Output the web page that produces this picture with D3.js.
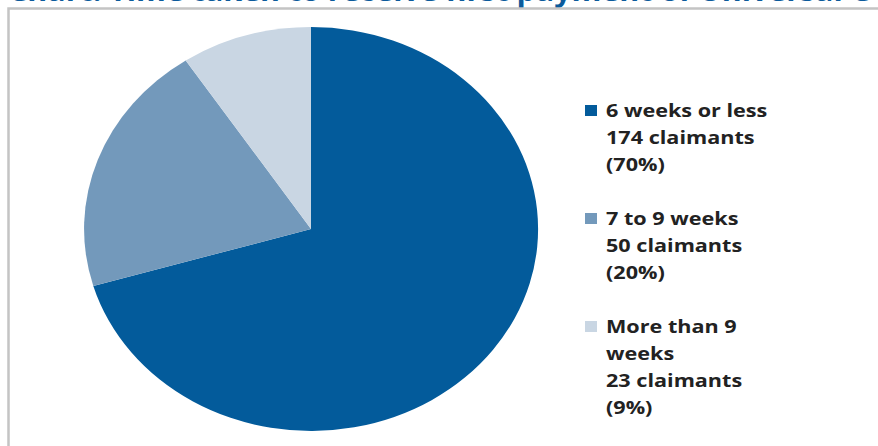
<!DOCTYPE html>
<html>
<head>
<meta charset="utf-8">
<script src="https://cdn.jsdelivr.net/npm/d3@7"></script>
<style>
  body { margin: 0; background: #fff; }
  svg { display: block; }
</style>
</head>
<body>
<script>
// values
var categories = ["6 weeks or less", "7 to 9 weeks", "More than 9 weeks"];
var claimants = [174, 50, 23];
var percents = ["70%", "20%", "9%"];
var legendLines = [
  ["6 weeks or less", "174 claimants", "(70%)"],
  ["7 to 9 weeks", "50 claimants", "(20%)"],
  ["More than 9", "weeks", "23 claimants", "(9%)"]
];
var colors = ["#035b9b", "#7399bb", "#c9d6e3"];
var title = "Chart: Time taken to receive first payment of Universal C";

var width = 878, height = 446;
var cx = 311, cy = 229, rx = 227, ry = 202;

var svg = d3.select("body").append("svg")
    .attr("width", width)
    .attr("height", height);

// title, cut off by the top of the picture
svg.append("text")
    .attr("x", 8).attr("y", 1)
    .attr("textLength", 862)
    .attr("lengthAdjust", "spacingAndGlyphs")
    .style("font-family", "'Open Sans', sans-serif")
    .style("font-weight", "bold")
    .style("font-size", "28px")
    .style("fill", "#0b5a9b")
    .text(title);

// frame
svg.append("rect")
    .attr("x", 8.5).attr("y", 8.5)
    .attr("width", 1000).attr("height", 1000)
    .attr("fill", "none")
    .attr("stroke", "#c4c4c4")
    .attr("stroke-width", 2.5);

var pie = d3.pie().sort(null).value(function(d){ return d; });
var arc = d3.arc().innerRadius(0).outerRadius(1);

// unit pie stretched into the ellipse
var g = svg.append("g")
    .attr("transform", "translate(" + cx + "," + cy + ") scale(" + rx + "," + ry + ")");

g.selectAll("path").data(pie(claimants))
  .enter().append("path")
    .attr("d", arc)
    .attr("fill", function(d, i){ return colors[i]; });

// legend (text is stretched sideways like the rest of the picture)
var lineH = 27, legTop = 117, lx = 606, stretch = 1.2;
var row = 0;
var leg = svg.append("g");

legendLines.forEach(function(lines, i){
  var y0 = legTop + row * lineH;
  leg.append("rect")
      .attr("x", 585).attr("y", y0 - 12)
      .attr("width", 12).attr("height", 11)
      .attr("fill", colors[i]);
  var tg = leg.append("g")
      .attr("transform", "translate(" + lx + "," + y0 + ") scale(" + stretch + ",1)")
      .style("font-family", "'Open Sans', sans-serif")
      .style("font-weight", "bold")
      .style("font-size", "18px")
      .style("fill", "#222");
  lines.forEach(function(t, k){
    tg.append("text")
        .attr("x", 0).attr("y", k * lineH)
        .text(t);
  });
  row += lines.length + 1;
});
</script>
</body>
</html>
